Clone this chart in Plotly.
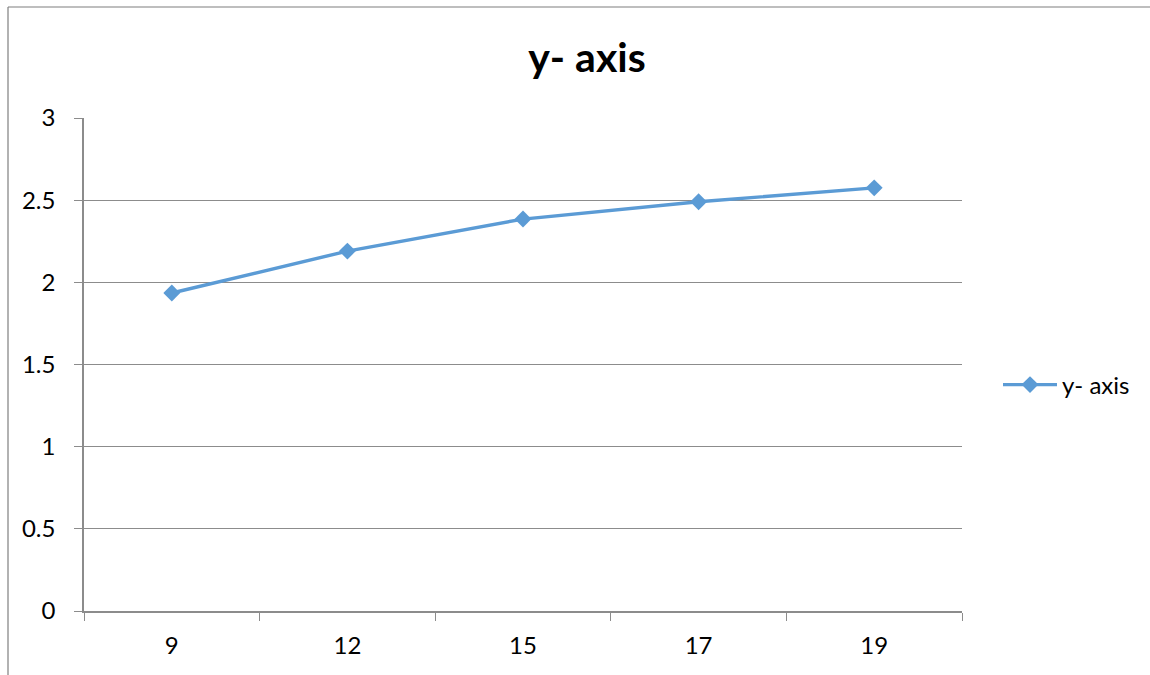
import plotly.graph_objects as go

categories = ["9", "12", "15", "17", "19"]
values = [1.935, 2.19, 2.385, 2.49, 2.575]
series_name = "y- axis"
y_ticks = [0, 0.5, 1, 1.5, 2, 2.5, 3]
y_tick_labels = ["0", "0.5", "1", "1.5", "2", "2.5", "3"]

W, H = 1150, 675
L, R, T, B = 84, 188, 118, 64
pw, ph = W - L - R, H - T - B

def px_x(x):
    return (x - L) / pw

def px_y(y):
    return (H - B - y) / ph

color = "#5B9BD5"
fig = go.Figure()
fig.add_trace(go.Scatter(
    x=categories, y=values, name=series_name, mode="lines+markers",
    line=dict(color=color, width=3.4),
    marker=dict(symbol="diamond", size=13, color=color),
))

grid = "#8C8C8C"
fig.update_layout(
    width=W, height=H,
    margin=dict(l=L, r=R, t=T, b=B),
    paper_bgcolor="white", plot_bgcolor="white",
    font=dict(family="Lato, 'Open Sans', sans-serif", size=24, color="black"),
    title=dict(text="<b>y- axis</b>", x=(587 / W), xanchor="center", y=1 - 58 / H,
               yanchor="middle", font=dict(size=41, color="black")),
    showlegend=True,
    legend=dict(x=px_x(998), y=px_y(385), xanchor="left", yanchor="middle",
                itemwidth=54, font=dict(size=24), bgcolor="rgba(0,0,0,0)"),
    xaxis=dict(type="category", range=[-0.5, 4.5], tickson="boundaries",
               ticks="outside", ticklen=8, tickcolor=grid, showgrid=False,
               showline=True, linecolor=grid, linewidth=1.5,
               ticklabelstandoff=12, fixedrange=True),
    yaxis=dict(range=[0, 3], tickvals=y_ticks, ticktext=y_tick_labels,
               ticks="outside", ticklen=8, tickcolor=grid,
               showgrid=True, gridcolor=grid, gridwidth=1.2,
               showline=True, linecolor=grid, linewidth=1.5,
               zeroline=False, ticklabelstandoff=14),
)

# outer frame lines (chart border)
fig.add_shape(type="line", xref="paper", yref="paper",
              x0=px_x(8), x1=px_x(1150), y0=px_y(7), y1=px_y(7),
              line=dict(color="#7F7F7F", width=1.2))
fig.add_shape(type="line", xref="paper", yref="paper",
              x0=px_x(8), x1=px_x(8), y0=px_y(7), y1=px_y(675),
              line=dict(color="#7F7F7F", width=1.2))

fig.write_html("out.html")
